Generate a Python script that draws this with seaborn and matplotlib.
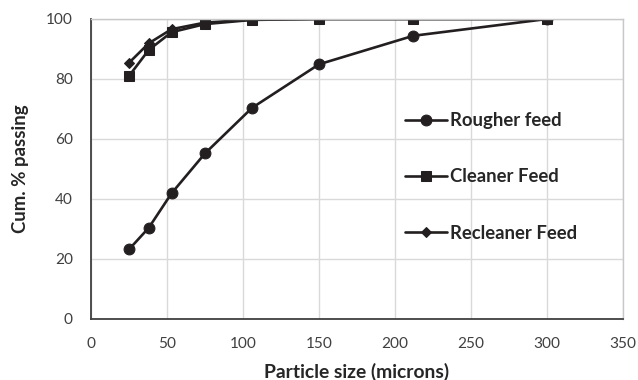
import matplotlib
matplotlib.use("Agg")
import matplotlib.pyplot as plt
import seaborn as sns
import pandas as pd

sizes = [25, 38, 53, 75, 106, 150, 212, 300]
rougher = [23.2, 30.4, 41.9, 55.2, 70.4, 84.9, 94.4, 100]
cleaner = [81.0, 89.7, 95.6, 98.3, 99.7, 100, 100, 100]
recleaner = [85.4, 91.9, 96.6, 98.8, 99.8, 100, 100, 100]
series_names = ["Rougher feed", "Cleaner Feed", "Recleaner Feed"]
x_ticks = [0, 50, 100, 150, 200, 250, 300, 350]
y_ticks = [0, 20, 40, 60, 80, 100]

sns.set_theme(style="white")
plt.rcParams['font.family'] = ['Lato', 'DejaVu Sans']

W, H = 638, 380
fig = plt.figure(figsize=(W / 100, H / 100), dpi=100)
ax = fig.add_axes([91 / W, 1 - 319 / H, 532 / W, 300 / H])
renderer = fig.canvas.get_renderer()


def fit_size(text, weight, target_px, base=12.0):
    t = fig.text(0, 0, text, fontsize=base, fontweight=weight)
    w = t.get_window_extent(renderer=renderer).width
    t.remove()
    return base * target_px / w


tick_fs = fit_size("100", "normal", 26.7)
label_fs = fit_size("Particle size (microns)", "bold", 184)
ylabel_fs = fit_size("Cum. % passing", "bold", 128)
legend_fs = fit_size("Recleaner Feed", "bold", 127)

line_color = "#231f20"
styles = [("o", 7.8), ("s", 7.6), ("D", 5.2)]
for name, vals, (m, ms) in zip(series_names, [rougher, cleaner, recleaner], styles):
    df = pd.DataFrame({"size": sizes, "passing": vals})
    sns.lineplot(data=df, x="size", y="passing", ax=ax, color=line_color,
                 marker=m, markersize=ms, markeredgecolor=line_color,
                 markerfacecolor=line_color, linewidth=1.9, label=name, sort=False)

ax.set_xlim(0, 350)
ax.set_ylim(0, 100)
ax.set_xticks(x_ticks)
ax.set_yticks(y_ticks)
ax.grid(True, color="#d9d9d9", linewidth=1.0)
ax.set_axisbelow(True)
for s in ["top", "right"]:
    ax.spines[s].set_color("#c8c8c8")
    ax.spines[s].set_linewidth(1.0)
for s in ["left", "bottom"]:
    ax.spines[s].set_color("#404040")
    ax.spines[s].set_linewidth(1.3)
ax.tick_params(axis="both", length=0, labelsize=tick_fs, colors="#404040", pad=13)

ax.set_xlabel("Particle size (microns)", fontsize=label_fs, fontweight="bold", color="#262626")
ax.set_ylabel("Cum. % passing", fontsize=ylabel_fs, fontweight="bold", color="#262626")
ax.xaxis.set_label_coords(0.5, (319 - 363) / 300)
ax.yaxis.set_label_coords((29 - 91) / 532, 0.5)

px = legend_fs * 100 / 72
leg = ax.legend(loc="center left", bbox_to_anchor=(405 / W, 1 - 177 / H),
                bbox_transform=fig.transFigure, frameon=False, borderpad=0,
                borderaxespad=0,
                labelspacing=(55.2 - 0.86 * px) / px, handlelength=41.5 / px,
                handletextpad=3.5 / px,
                prop={"weight": "bold", "size": legend_fs})
for t in leg.get_texts():
    t.set_color("#262626")

fig.savefig("out.png", dpi=100)
